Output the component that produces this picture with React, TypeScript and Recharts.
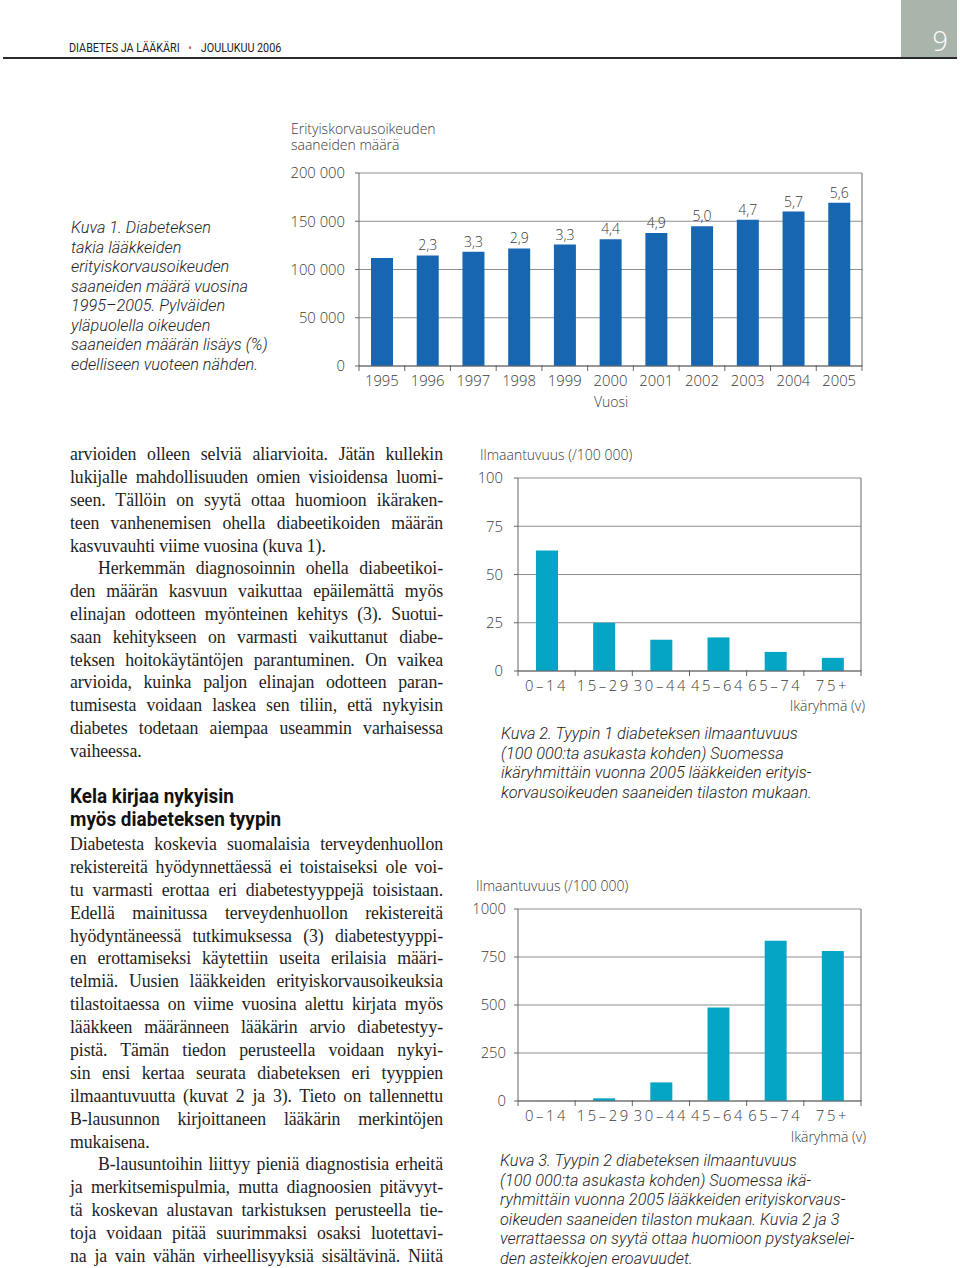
import React from 'react';
import {
  BarChart, Bar, XAxis, YAxis, CartesianGrid, LabelList,
} from 'recharts';

/* ── Data ────────────────────────────────────────────────────────────── */
const years = ['1995', '1996', '1997', '1998', '1999', '2000', '2001', '2002', '2003', '2004', '2005'];
const recipients = [112000, 114600, 118400, 121800, 125800, 131300, 137800, 144700, 151500, 160100, 169100];
const growthPct = ['', '2,3', '3,3', '2,9', '3,3', '4,4', '4,9', '5,0', '4,7', '5,7', '5,6'];
const recipientTicks = [0, 50000, 100000, 150000, 200000];

const ageGroups = ['0–14', '15–29', '30–44', '45–64', '65–74', '75+'];
const type1Incidence = [62.5, 25.0, 16.2, 17.4, 9.9, 6.8];
const type1Ticks = [0, 25, 50, 75, 100];
const type2Incidence = [0.5, 14, 97, 487, 835, 781];
const type2Ticks = [0, 250, 500, 750, 1000];

const chart1Data = years.map((year, i) => ({ year, value: recipients[i], pct: growthPct[i] }));
const chart2Data = ageGroups.map((age, i) => ({ age, value: type1Incidence[i] }));
const chart3Data = ageGroups.map((age, i) => ({ age, value: type2Incidence[i] }));

/* ── Styles ──────────────────────────────────────────────────────────── */
const SANS = '"Open Sans", "Noto Sans", sans-serif';
const CAPTION = 'Roboto, "Open Sans", sans-serif';
const SERIF = '"Liberation Serif", "DejaVu Serif", serif';
const TEXT = '#3a3a3a';
const GRID = '#8f8f8f';
const AXIS = '#666';

const bodyText = {
  p1: [
    'arvioiden olleen selviä aliarvioita. Jätän kullekin',
    'lukijalle mahdollisuuden omien visioidensa luomi-',
    'seen. Tällöin on syytä ottaa huomioon ikäraken-',
    'teen vanhenemisen ohella diabeetikoiden määrän',
    'kasvuvauhti viime vuosina (kuva 1).',
  ],
  p2: [
    'Herkemmän diagnosoinnin ohella diabeetikoi-',
    'den määrän kasvuun vaikuttaa epäilemättä myös',
    'elinajan odotteen myönteinen kehitys (3). Suotui-',
    'saan kehitykseen on varmasti vaikuttanut diabe-',
    'teksen hoitokäytäntöjen parantuminen. On vaikea',
    'arvioida, kuinka paljon elinajan odotteen paran-',
    'tumisesta voidaan laskea sen tiliin, että nykyisin',
    'diabetes todetaan aiempaa useammin varhaisessa',
    'vaiheessa.',
  ],
  p3: [
    'Diabetesta koskevia suomalaisia terveydenhuollon',
    'rekistereitä hyödynnettäessä ei toistaiseksi ole voi-',
    'tu varmasti erottaa eri diabetestyyppejä toisistaan.',
    'Edellä mainitussa  terveydenhuollon rekistereitä',
    'hyödyntäneessä tutkimuksessa (3) diabetestyyppi-',
    'en erottamiseksi käytettiin useita erilaisia määri-',
    'telmiä. Uusien lääkkeiden erityiskorvausoikeuksia',
    'tilastoitaessa on viime vuosina alettu kirjata myös',
    'lääkkeen määränneen lääkärin arvio diabetestyy-',
    'pistä. Tämän tiedon perusteella voidaan nykyi-',
    'sin ensi kertaa seurata diabeteksen eri tyyppien',
    'ilmaantuvuutta (kuvat 2 ja 3). Tieto on tallennettu',
    'B-lausunnon kirjoittaneen lääkärin merkintöjen',
    'mukaisena.',
  ],
  p4: [
    'B-lausuntoihin liittyy pieniä diagnostisia erheitä',
    'ja merkitsemispulmia, mutta diagnoosien pitävyyt-',
    'tä koskevan alustavan tarkistuksen perusteella tie-',
    'toja voidaan pitää suurimmaksi osaksi luotettavi-',
    'na ja vain vähän virheellisyyksiä sisältävinä. Niitä',
  ],
};

const caption1 = [
  'Kuva 1. Diabeteksen',
  'takia lääkkeiden',
  'erityiskorvausoikeuden',
  'saaneiden määrä vuosina',
  '1995–2005. Pylväiden',
  'yläpuolella oikeuden',
  'saaneiden määrän lisäys (%)',
  'edelliseen vuoteen nähden.',
];
const caption2 = [
  'Kuva 2. Tyypin 1 diabeteksen ilmaantuvuus',
  '(100 000:ta asukasta kohden) Suomessa',
  'ikäryhmittäin vuonna 2005 lääkkeiden erityis-',
  'korvausoikeuden saaneiden tilaston mukaan.',
];
const caption3 = [
  'Kuva 3. Tyypin 2 diabeteksen ilmaantuvuus',
  '(100 000:ta asukasta kohden) Suomessa ikä-',
  'ryhmittäin vuonna 2005 lääkkeiden erityiskorvaus-',
  'oikeuden saaneiden tilaston mukaan. Kuvia 2 ja 3',
  'verrattaessa on syytä ottaa huomioon pystyakselei-',
  'den asteikkojen eroavuudet.',
];

/* ── Helpers ─────────────────────────────────────────────────────────── */
function Paragraph({ top, lines, indent = false, ends = true }: {
  top: number; lines: string[]; indent?: boolean; ends?: boolean;
}) {
  return (
    <div style={{
      position: 'absolute', left: 70, top, width: 373,
      fontFamily: SERIF, fontSize: 17.8, lineHeight: '22.9px', color: '#1e1e1e',
    }}>
      {lines.map((l, i) => (
        <div key={i} style={{
          textAlign: 'justify',
          textAlignLast: ends && i === lines.length - 1 ? 'left' : 'justify',
          paddingLeft: indent && i === 0 ? 28 : 0,
          whiteSpace: 'nowrap',
          letterSpacing: -0.1,
          height: 22.9,
        }}>{l}</div>
      ))}
    </div>
  );
}

function Caption({ left, top, lines }: { left: number; top: number; lines: string[] }) {
  return (
    <div style={{
      position: 'absolute', left, top, fontFamily: CAPTION, fontStyle: 'italic',
      fontWeight: 300, fontSize: 16.3, lineHeight: '19.5px', color: '#1e1e1e', whiteSpace: 'nowrap',
    }}>
      {lines.map((l, i) => <div key={i}>{l}</div>)}
    </div>
  );
}

function Label({ left, top, children, right = false }: {
  left: number; top: number; children: React.ReactNode; right?: boolean;
}) {
  return (
    <div style={{
      position: 'absolute', left: right ? undefined : left, right: right ? 960 - left : undefined, top,
      fontFamily: SANS, fontWeight: 300, fontSize: 14, lineHeight: '16px', color: TEXT, whiteSpace: 'nowrap',
    }}>{children}</div>
  );
}

/* Category ticks sit on the boundaries between bars, label in the middle */
// eslint-disable-next-line @typescript-eslint/no-explicit-any
function BoundaryTick(props: any) {
  const { x, y, payload, index, bw, count, spacing = 0 } = props;
  return (
    <g>
      <line x1={x - bw / 2} x2={x - bw / 2} y1={y - 1} y2={y + 5} stroke={AXIS} />
      {index === count - 1 && (
        <line x1={x + bw / 2} x2={x + bw / 2} y1={y - 1} y2={y + 5} stroke={AXIS} />
      )}
      <text x={x} y={y + 20} textAnchor="middle" fill={TEXT}
        style={{ fontFamily: SANS, fontWeight: 300, fontSize: 14.8, letterSpacing: spacing }}>
        {payload.value}
      </text>
    </g>
  );
}

const yTick = { fill: TEXT, fontSize: 14.8, fontFamily: SANS, fontWeight: 300 };
const fmtThousands = (v: number) => (v === 0 ? '0' : `${v / 1000} 000`);

/* ── Age-group chart (Kuva 2 / 3) ────────────────────────────────────── */
function AgeChart({ data, ticks, top, labelGap, plotH }: {
  data: { age: string; value: number }[]; ticks: number[]; top: number; labelGap: number; plotH: number;
}) {
  const width = 401;
  const yWidth = 48;
  const plotW = width - 9 - 1 - yWidth;
  return (
    <div style={{ position: 'absolute', left: 470, top }}>
      <BarChart width={width} height={13 + plotH + 40} data={data}
        margin={{ top: 13, right: 9, left: 0, bottom: 0 }} barSize={22}>
        <CartesianGrid vertical={false} stroke={GRID} />
        <XAxis dataKey="age" height={40} tickSize={0} tickMargin={0} tickLine={false}
          axisLine={{ stroke: AXIS }} interval={0}
          tick={<BoundaryTick bw={plotW / data.length} count={data.length} spacing={2.6} />} />
        <YAxis domain={[ticks[0], ticks[ticks.length - 1]]} ticks={ticks} width={yWidth}
          tick={yTick} tickSize={4} tickMargin={labelGap} tickLine={{ stroke: AXIS }}
          axisLine={{ stroke: AXIS }} />
        <YAxis yAxisId="r" orientation="right" width={1} tick={false} tickLine={false}
          axisLine={{ stroke: AXIS }} />
        <Bar dataKey="value" fill="#04a5c5" isAnimationActive={false} />
      </BarChart>
    </div>
  );
}

/* ── Page ────────────────────────────────────────────────────────────── */
export default function App() {
  const c1W = 593;
  const c1Y = 79;
  const c1Plot = c1W - 10 - 1 - c1Y;
  return (
    <div style={{ position: 'absolute', left: 0, top: 0, width: 960, height: 1268, background: '#fff', overflow: 'hidden' }}>
      {/* Header */}
      <div style={{ position: 'absolute', left: 901, top: 0, width: 56, height: 57, background: '#a9b5ab' }}>
        <div style={{
          position: 'absolute', right: 9, top: 26, color: '#fff', fontFamily: SANS, fontWeight: 300,
          fontSize: 27, lineHeight: '30px',
        }}>9</div>
      </div>
      <div style={{ position: 'absolute', left: 3, top: 57, width: 954, height: 1.5, background: '#2a2a2a' }} />
      <div style={{
        position: 'absolute', left: 69, top: 41, fontFamily: 'Roboto, sans-serif', fontSize: 12.4,
        lineHeight: '14px', color: '#222', whiteSpace: 'nowrap', transform: 'scaleX(0.87)', transformOrigin: 'left',
      }}>
        DIABETES JA LÄÄKÄRI <span style={{ color: '#c9636a', margin: '0 7px' }}>•</span> JOULUKUU 2006
      </div>

      {/* Kuva 1 */}
      <Caption left={71} top={218} lines={caption1} />
      <Label left={291} top={121}>Erityiskorvausoikeuden</Label>
      <Label left={291} top={137}>saaneiden määrä</Label>
      <div style={{ position: 'absolute', left: 280, top: 160 }}>
        <BarChart width={c1W} height={260} data={chart1Data}
          margin={{ top: 13, right: 10, left: 0, bottom: 0 }} barSize={22}>
          <CartesianGrid vertical={false} stroke={GRID} />
          <XAxis dataKey="year" height={54} tickSize={0} tickMargin={0} tickLine={false}
            axisLine={{ stroke: AXIS }} interval={0}
            tick={<BoundaryTick bw={c1Plot / years.length} count={years.length} />} />
          <YAxis domain={[0, 200000]} ticks={recipientTicks} width={c1Y} tickFormatter={fmtThousands}
            tick={yTick} tickSize={4} tickMargin={10} tickLine={{ stroke: AXIS }}
            axisLine={{ stroke: AXIS }} />
          <YAxis yAxisId="r" orientation="right" width={1} tick={false} tickLine={false}
            axisLine={{ stroke: AXIS }} />
          <Bar dataKey="value" fill="#1766b1" isAnimationActive={false}>
            <LabelList dataKey="pct" position="top" offset={5}
              style={{ fill: TEXT, fontFamily: SANS, fontWeight: 300, fontSize: 14 }} />
          </Bar>
        </BarChart>
      </div>
      <Label left={594} top={394}>Vuosi</Label>

      {/* Body text */}
      <Paragraph top={443} lines={bodyText.p1} />
      <Paragraph top={557} lines={bodyText.p2} indent />
      <div style={{
        position: 'absolute', left: 70, top: 785, fontFamily: 'Roboto, sans-serif', fontWeight: 700,
        fontSize: 19.5, lineHeight: '23px', color: '#111', whiteSpace: 'nowrap',
        transform: 'scaleX(0.97)', transformOrigin: 'left',
      }}>
        Kela kirjaa nykyisin<br />myös diabeteksen tyypin
      </div>
      <Paragraph top={833} lines={bodyText.p3} />
      <Paragraph top={1153} lines={bodyText.p4} indent ends={false} />

      {/* Kuva 2 */}
      <Label left={480} top={447}>Ilmaantuvuus (/100 000)</Label>
      <AgeChart data={chart2Data} ticks={type1Ticks} top={465} labelGap={11} plotH={193} />
      <Label left={865} top={698} right>Ikäryhmä (v)</Label>
      <Caption left={501} top={724} lines={caption2} />

      {/* Kuva 3 */}
      <Label left={476} top={878}>Ilmaantuvuus (/100 000)</Label>
      <AgeChart data={chart3Data} ticks={type2Ticks} top={896} labelGap={8} plotH={192} />
      <Label left={866} top={1129} right>Ikäryhmä (v)</Label>
      <Caption left={500} top={1151} lines={caption3} />
    </div>
  );
}
